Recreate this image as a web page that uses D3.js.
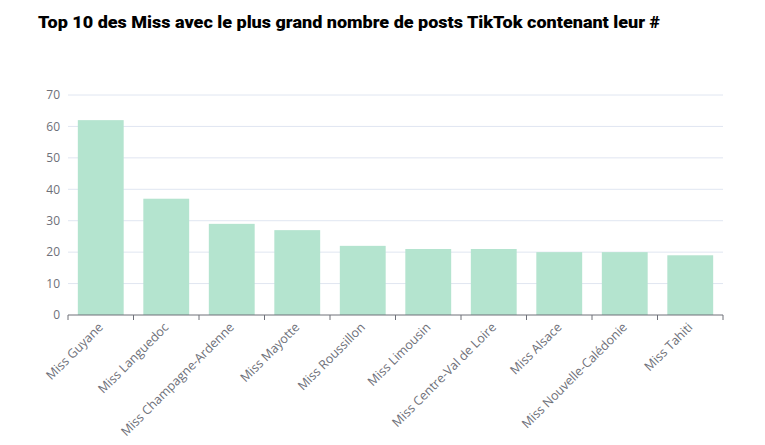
<!DOCTYPE html>
<html>
<head>
<meta charset="utf-8">
<script src="https://cdn.jsdelivr.net/npm/d3@7"></script>
<style>
  body { margin: 0; background: #fff; }
  svg text { font-family: "Open Sans", "Noto Sans", sans-serif; }
</style>
</head>
<body>
<div id="chart"></div>
<script>
// data
var categories = ["Miss Guyane", "Miss Languedoc", "Miss Champagne-Ardenne", "Miss Mayotte",
  "Miss Roussillon", "Miss Limousin", "Miss Centre-Val de Loire", "Miss Alsace",
  "Miss Nouvelle-Calédonie", "Miss Tahiti"];
var posts = [62, 37, 29, 27, 22, 21, 21, 20, 20, 19];
var yTicks = [0, 10, 20, 30, 40, 50, 60, 70];

var W = 765, H = 445;
var margin = {top: 95, right: 42, bottom: 130, left: 68},
    width = W - margin.left - margin.right,
    height = H - margin.top - margin.bottom;

var svg = d3.select("#chart").append("svg")
    .attr("width", W)
    .attr("height", H);

// title
svg.append("text")
    .attr("x", 38)
    .attr("y", 28)
    .style("font-family", "Roboto, sans-serif")
    .style("font-weight", "900")
    .style("font-size", "17px")
    .attr("fill", "#000")
    .attr("textLength", 622)
    .attr("lengthAdjust", "spacingAndGlyphs")
    .text("Top 10 des Miss avec le plus grand nombre de posts TikTok contenant leur #");

var g = svg.append("g")
    .attr("transform", "translate(" + margin.left + "," + margin.top + ")");

var x = d3.scaleBand().domain(categories).range([0, width]).paddingInner(0.3).paddingOuter(0.15);
var y = d3.scaleLinear().domain([0, 70]).range([height, 0]);

// grid
g.selectAll(".grid").data(yTicks.slice(1)).enter().append("line")
    .attr("x1", 0).attr("x2", width)
    .attr("y1", function(d) { return y(d); })
    .attr("y2", function(d) { return y(d); })
    .attr("stroke", "#e0e6f1");

// y labels
var yAxis = g.append("g")
    .call(d3.axisLeft(y).tickValues(yTicks).tickSize(0).tickPadding(8));
yAxis.select(".domain").remove();
yAxis.selectAll("text")
    .attr("fill", "#6e7079")
    .style("font-size", "12px");

// bars
g.selectAll(".bar").data(posts).enter().append("rect")
    .attr("x", function(d, i) { return x(categories[i]); })
    .attr("y", function(d) { return y(d); })
    .attr("width", x.bandwidth())
    .attr("height", function(d) { return height - y(d); })
    .attr("fill", "#b4e4cf");

// x axis with ticks at band boundaries
var step = x.step();
var xAxis = g.append("g").attr("transform", "translate(0," + height + ")");
xAxis.append("line").attr("x1", 0).attr("x2", width).attr("stroke", "#6e7079");
xAxis.selectAll(".tk").data(d3.range(categories.length + 1)).enter().append("line")
    .attr("x1", function(i) { return i * step; })
    .attr("x2", function(i) { return i * step; })
    .attr("y1", 0).attr("y2", 5)
    .attr("stroke", "#6e7079");
xAxis.selectAll(".lbl").data(categories).enter().append("text")
    .attr("transform", function(d) {
      return "translate(" + (x(d) + x.bandwidth() / 2) + ",10) rotate(-45)";
    })
    .attr("text-anchor", "end")
    .attr("dy", "0.35em")
    .attr("fill", "#6e7079")
    .style("font-size", "12.5px")
    .text(function(d) { return d; });
</script>
</body>
</html>
